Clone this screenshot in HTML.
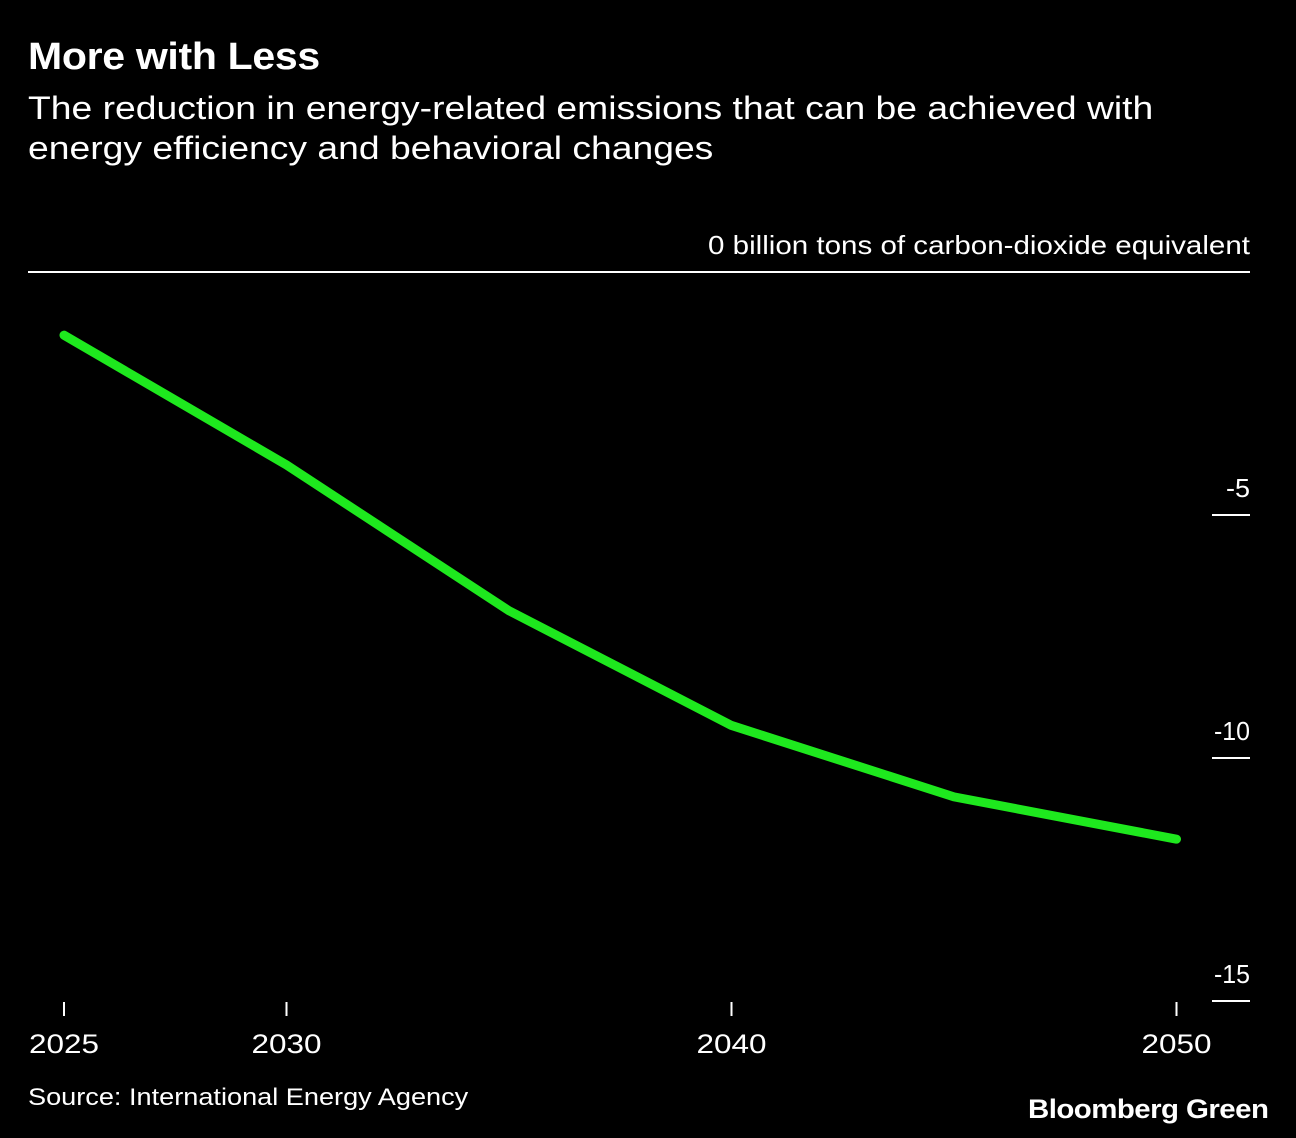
<!DOCTYPE html>
<html><head><meta charset="utf-8"><style>
body{margin:0;background:#000;width:1296px;height:1138px;overflow:hidden;font-family:"Liberation Sans",sans-serif;color:#fff}
.t{position:absolute;white-space:nowrap;transform-origin:0 0}
</style></head><body>
<div class="t" style="left:28px;top:36px;font-size:38px;font-weight:bold;letter-spacing:-0.3px;transform:scaleX(1.08)">More with Less</div>
<div class="t" style="left:28px;top:88px;font-size:32px;line-height:40px;transform:scaleX(1.165)">The reduction in energy-related emissions that can be achieved with<br>energy efficiency and behavioral changes</div>
<svg id="c" width="1296" height="1138" style="position:absolute;left:0;top:0"></svg>
<div class="t" style="left:28px;top:1084px;font-size:24px;transform:scaleX(1.13)">Source: International Energy Agency</div>
<div class="t" style="left:1028px;top:1094px;font-size:27px;font-weight:bold;letter-spacing:-0.5px;transform:scaleX(1.09)">Bloomberg Green</div>
<script>
const years=[2025,2030,2035,2040,2045,2050];
const values=[-1.3,-3.97,-6.97,-9.33,-10.8,-11.67];
const yTicks=[-5,-10,-15];
const xTicks=[2025,2030,2040,2050];
const svg=document.getElementById('c');const NS='http://www.w3.org/2000/svg';
const x=v=>64+(v-2025)*44.5;
const y=v=>272-v*48.6;
function el(t,a){const e=document.createElementNS(NS,t);for(const k in a)e.setAttribute(k,a[k]);svg.appendChild(e);return e;}
let z=el('line',{x1:28,x2:1250,y1:y(0),y2:y(0),stroke:'#fff','stroke-width':2});


let zl=el('text',{x:1250,y:y(0)-18,'text-anchor':'end',fill:'#fff','font-size':26,textLength:542,lengthAdjust:'spacingAndGlyphs'});
zl.textContent='0 billion tons of carbon-dioxide equivalent';


yTicks.forEach(v=>{
 let l=el('line',{x1:1212,x2:1250,y1:y(v),y2:y(v),stroke:'#fff','stroke-width':2});
 
 
 let s=String(v);
 let t=el('text',{x:1250,y:y(v)-18,'text-anchor':'end',fill:'#fff','font-size':26,textLength:s.length*12,lengthAdjust:'spacingAndGlyphs'});
 t.textContent=s;
 
 
});
xTicks.forEach(v=>{
 let l=el('line',{x1:x(v),x2:x(v),y1:1002,y2:1016,stroke:'#fff','stroke-width':2});
 
 
 let t=el('text',{x:x(v),y:1053,'text-anchor':'middle',fill:'#fff','font-size':27,textLength:70,lengthAdjust:'spacingAndGlyphs'});
 t.textContent=String(v);
 
 
});
let p=el('polyline',{points:years.map((yr,i)=>x(yr)+','+y(values[i])).join(' '),fill:'none',stroke:'#1ee81e','stroke-width':9,'stroke-linecap':'round','stroke-linejoin':'round'});


</script>
</body></html>
